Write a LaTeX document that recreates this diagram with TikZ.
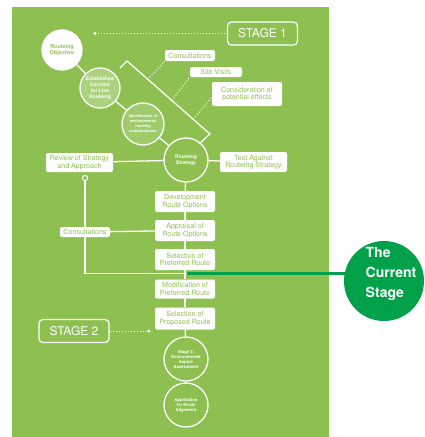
\documentclass[tikz,border=0pt]{standalone}
\usepackage{fontspec}
\setmainfont{TeX Gyre Heros}
\usetikzlibrary{calc}
\definecolor{leaf}{RGB}{141,192,80}
\definecolor{leaflight}{RGB}{172,210,128}
\definecolor{forest}{RGB}{0,161,72}
\begin{document}
\begin{tikzpicture}[x=1pt,y=-1pt,
  wire/.style={draw=white,line width=1.3pt},
  dotwire/.style={draw=white,line width=1pt,dotted},
  routebox/.style={fill=white,rounded corners=2pt,text=leaf,align=center,
    inner sep=1pt,font=\fontsize{7.1}{7.6}\selectfont},
  stagebox/.style={draw=white,line width=1.2pt,rounded corners=4pt,text=white,
    minimum width=70,minimum height=23,font=\fontsize{12}{12}\selectfont},
  stepcircle/.style={circle,draw=white,line width=1.3pt,minimum size=44,
    inner sep=0pt,align=center,text=white,font=\bfseries\fontsize{4.6}{5.4}\selectfont}]
\useasboundingbox (0,0) rectangle (424,437);
\fill[white] (0,0) rectangle (424,437);
\fill[leaf] (12,7) rectangle (329,437);
% stage 1 circles
\node[stepcircle,fill=white,text=leaf,minimum size=40,font=\bfseries\fontsize{5.4}{6.2}\selectfont] (objective) at (62,50) {Routeing\\Objective};
\node[stepcircle,fill=leaflight,minimum size=40,font=\bfseries\fontsize{5}{6.2}\selectfont] (corridor) at (100,88) {Established\\Corridor\\for Line\\Routeing};
\node[stepcircle,fill=leaflight!60!leaf,minimum size=42,font=\bfseries\fontsize{3.8}{5}\selectfont] (constraints) at (143,124) {Identification of\\environmental\\routeing\\considerations};
\node[stepcircle,font=\bfseries\fontsize{5}{6}\selectfont] (strategy) at (186,160) {Routeing\\Strategy};
\draw[wire] (objective) -- (corridor);
\draw[wire] (corridor) -- (constraints);
\draw[wire] (constraints) -- (strategy);
% bracket
\coordinate (bracket top) at (127,61);
\coordinate (bracket bottom) at (210,134);
\draw[wire] (120,68) -- (bracket top) -- (bracket bottom) -- (199,144);
\node[routebox,minimum width=50,minimum height=11] (consult) at (190,55.5) {Consultations};
\node[routebox,minimum width=52,minimum height=10] (visits) at (216,72) {Site Visits};
\node[routebox,minimum width=70,minimum height=24] (effects) at (247,94) {Consideration of\\potential effects};
\draw[dotwire] ($(bracket top)!0.25!(bracket bottom)$) -- (consult.south west);
\draw[dotwire] ($(bracket top)!0.54!(bracket bottom)$) -- (visits.south west);
\draw[dotwire] ($(bracket top)!0.8!(bracket bottom)$) -- ([yshift=-3]effects.west);
% stage labels
\node[stagebox] (stage one) at (262.5,33.5) {STAGE 1};
\coordinate (stage one dot) at (95,33.5);
\fill[white] (stage one dot) circle (1.6);
\draw[dotwire] (stage one dot) -- (stage one);
\node[stagebox] (stage two) at (74,331) {STAGE 2};
\coordinate (stage two dot) at (149,331);
\fill[white] (stage two dot) circle (1.6);
\draw[dotwire] (stage two) -- (stage two dot);
% strategy row
\node[routebox,minimum width=67,minimum height=19] (review) at (79.5,162.5) {Review of Strategy\\and Approach};
\node[routebox,minimum width=67,minimum height=20] (test) at (253.5,162) {Test Against\\Routeing Strategy};
\draw[wire] (review) -- (strategy);
\draw[wire] (strategy) -- (test);
% route column
\node[routebox,minimum width=60,minimum height=21] (develop) at (185,201.5) {Development\\Route Options};
\node[routebox,minimum width=60,minimum height=21] (appraise) at (185,230.5) {Appraisal of\\Route Options};
\node[routebox,minimum width=60,minimum height=21] (prefer) at (185,259.5) {Selection of\\Preferred Route};
\node[routebox,minimum width=60,minimum height=19] (modify) at (185,289) {Modification of\\Preferred Route};
\node[routebox,minimum width=60,minimum height=22] (propose) at (185,318.5) {Selection of\\Proposed Route};
\node[stepcircle,font=\bfseries\fontsize{4.2}{5}\selectfont] (impact) at (186,359) {Stage 3:\\Environmental\\Impact\\Assessment};
\node[stepcircle,font=\bfseries\fontsize{4.2}{5}\selectfont] (apply) at (186,405) {Application\\for Route\\Alignment};
\draw[wire] (strategy) -- (develop);
\draw[wire] (develop) -- (appraise);
\draw[wire] (appraise) -- (prefer);
\draw[wire] (prefer) -- (modify);
\draw[wire] (modify) -- (propose);
\draw[wire] (propose) -- (impact);
\draw[wire] (impact) -- (apply);
% review loop
\coordinate (loop dot) at (85,178);
\coordinate (loop corner) at (85,273.5);
\coordinate (loop join) at (187,273.5);
\node[routebox,minimum width=50,minimum height=10] (consult left) at (85,232) {Consultations};
\draw[wire] (loop dot) -- (consult left) -- (loop corner) -- (loop join);
\draw[wire] (consult left) -- (appraise);
\draw[white,line width=1pt,fill=leaf] (loop dot) circle (2.6);
% current stage
\node[circle,fill=forest,minimum size=80,inner sep=0pt] (current) at (384,281) {};
\node[text=white,align=left,font=\bfseries\fontsize{14}{20}\selectfont] (current label) at (391,274) {The\\Current\\Stage};
\draw[forest,line width=2.2pt] (loop join) -- ($(loop join -| current.west)+(4,0)$);
\end{tikzpicture}
\end{document}
